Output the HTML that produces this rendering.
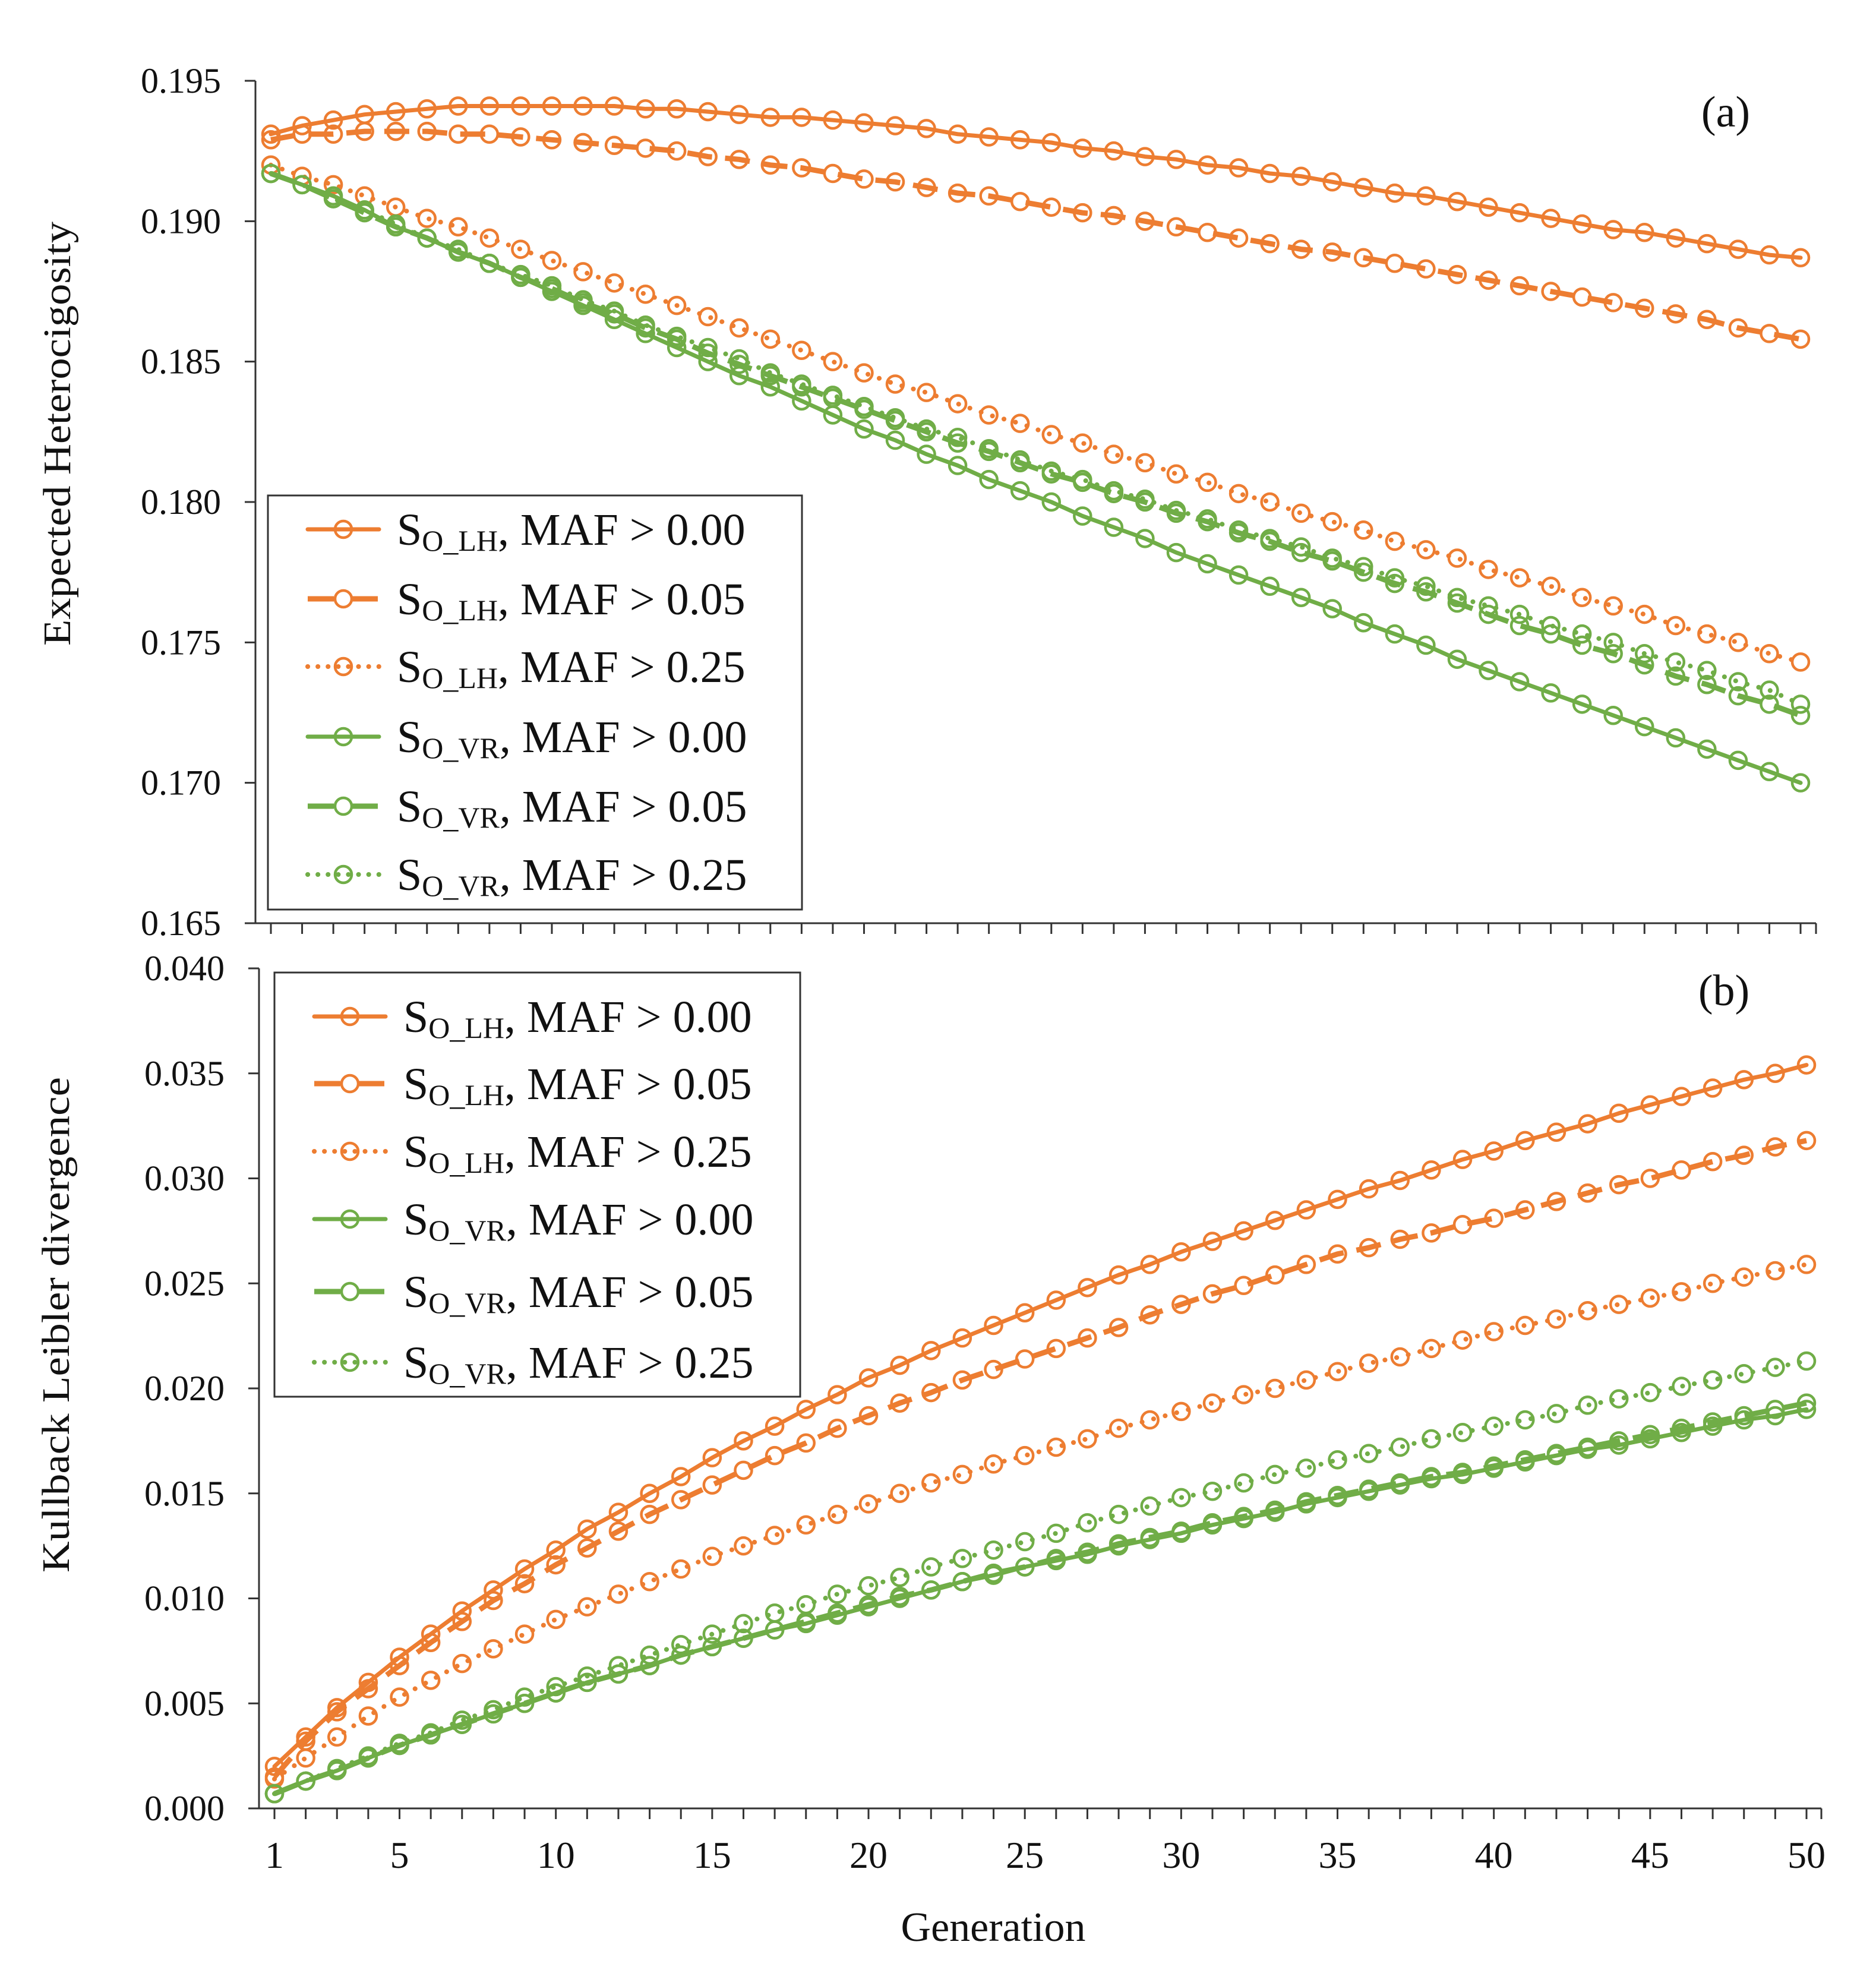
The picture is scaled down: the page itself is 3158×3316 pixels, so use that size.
<!DOCTYPE html>
<html><head><meta charset="utf-8"><style>
html,body{margin:0;padding:0;background:#fff;}
svg{display:block;font-family:"Liberation Serif",serif;}
</style></head><body>
<svg id="chart" width="3158" height="3316" viewBox="0 0 3158 3316" xmlns="http://www.w3.org/2000/svg"></svg>
<script>
const generations = Array.from({length:50},(_,i)=>i+1);
const xTickLabels = [1,5,10,15,20,25,30,35,40,45,50];
const hTicks = [0.165,0.170,0.175,0.180,0.185,0.190,0.195];
const kTicks = [0.000,0.005,0.010,0.015,0.020,0.025,0.030,0.035,0.040];
const legendLabels = [["S","O_LH",", MAF > 0.00"],["S","O_LH",", MAF > 0.05"],["S","O_LH",", MAF > 0.25"],["S","O_VR",", MAF > 0.00"],["S","O_VR",", MAF > 0.05"],["S","O_VR",", MAF > 0.25"]];

const hLH00 = [.1931,.1934,.1936,.1938,.1939,.1940,.1941,.1941,.1941,.1941,.1941,.1941,.1940,.1940,.1939,.1938,.1937,.1937,.1936,.1935,.1934,.1933,.1931,.1930,.1929,.1928,.1926,.1925,.1923,.1922,.1920,.1919,.1917,.1916,.1914,.1912,.1910,.1909,.1907,.1905,.1903,.1901,.1899,.1897,.1896,.1894,.1892,.1890,.1888,.1887];
const hLH05 = [.1929,.1931,.1931,.1932,.1932,.1932,.1931,.1931,.1930,.1929,.1928,.1927,.1926,.1925,.1923,.1922,.1920,.1919,.1917,.1915,.1914,.1912,.1910,.1909,.1907,.1905,.1903,.1902,.1900,.1898,.1896,.1894,.1892,.1890,.1889,.1887,.1885,.1883,.1881,.1879,.1877,.1875,.1873,.1871,.1869,.1867,.1865,.1862,.1860,.1858];
const hLH25 = [.1920,.1916,.1913,.1909,.1905,.1901,.1898,.1894,.1890,.1886,.1882,.1878,.1874,.1870,.1866,.1862,.1858,.1854,.1850,.1846,.1842,.1839,.1835,.1831,.1828,.1824,.1821,.1817,.1814,.1810,.1807,.1803,.1800,.1796,.1793,.1790,.1786,.1783,.1780,.1776,.1773,.1770,.1766,.1763,.1760,.1756,.1753,.1750,.1746,.1743];
const hVR00 = [.1917,.1913,.1909,.1904,.1898,.1894,.1889,.1885,.1880,.1875,.1870,.1865,.1860,.1855,.1850,.1845,.1841,.1836,.1831,.1826,.1822,.1817,.1813,.1808,.1804,.1800,.1795,.1791,.1787,.1782,.1778,.1774,.1770,.1766,.1762,.1757,.1753,.1749,.1744,.1740,.1736,.1732,.1728,.1724,.1720,.1716,.1712,.1708,.1704,.1700];
const hVR05 = [.1917,.1913,.1908,.1903,.1898,.1894,.1889,.1885,.1880,.1876,.1871,.1867,.1862,.1858,.1853,.1849,.1845,.1841,.1837,.1833,.1829,.1825,.1821,.1818,.1814,.1810,.1807,.1803,.1800,.1796,.1793,.1789,.1786,.1782,.1779,.1775,.1771,.1768,.1764,.1760,.1756,.1753,.1749,.1746,.1742,.1738,.1735,.1731,.1728,.1724];
const hVR25 = [.1917,.1913,.1908,.1904,.1899,.1894,.1890,.1885,.1881,.1877,.1872,.1868,.1863,.1859,.1855,.1851,.1846,.1842,.1838,.1834,.1830,.1826,.1823,.1819,.1815,.1811,.1808,.1804,.1801,.1797,.1794,.1790,.1787,.1784,.1780,.1777,.1773,.1770,.1766,.1763,.1760,.1756,.1753,.1750,.1746,.1743,.1740,.1736,.1733,.1728];

const kLH00 = [.0020,.0034,.0048,.0060,.0072,.0083,.0094,.0104,.0114,.0123,.0133,.0141,.0150,.0158,.0167,.0175,.0182,.0190,.0197,.0205,.0211,.0218,.0224,.0230,.0236,.0242,.0248,.0254,.0259,.0265,.0270,.0275,.0280,.0285,.0290,.0295,.0299,.0304,.0309,.0313,.0318,.0322,.0326,.0331,.0335,.0339,.0343,.0347,.0350,.0354];
const kLH05 = [.0015,.0032,.0046,.0057,.0068,.0079,.0089,.0099,.0107,.0116,.0124,.0132,.0140,.0147,.0154,.0161,.0168,.0174,.0181,.0187,.0193,.0198,.0204,.0209,.0214,.0219,.0224,.0229,.0235,.0240,.0245,.0249,.0254,.0259,.0264,.0267,.0271,.0274,.0278,.0281,.0285,.0289,.0293,.0297,.0300,.0304,.0308,.0311,.0315,.0318];
const kLH25 = [.0014,.0024,.0034,.0044,.0053,.0061,.0069,.0076,.0083,.0090,.0096,.0102,.0108,.0114,.0120,.0125,.0130,.0135,.0140,.0145,.0150,.0155,.0159,.0164,.0168,.0172,.0176,.0181,.0185,.0189,.0193,.0197,.0200,.0204,.0208,.0212,.0215,.0219,.0223,.0227,.0230,.0233,.0237,.0240,.0243,.0246,.0250,.0253,.0256,.0259];
const kVR00 = [.0007,.0013,.0018,.0024,.0030,.0035,.0040,.0045,.0050,.0055,.0060,.0064,.0068,.0073,.0077,.0081,.0085,.0088,.0092,.0096,.0100,.0104,.0108,.0111,.0115,.0118,.0121,.0125,.0128,.0131,.0135,.0138,.0141,.0145,.0148,.0151,.0154,.0157,.0159,.0162,.0165,.0168,.0171,.0173,.0176,.0179,.0182,.0185,.0187,.0190];
const kVR05 = [.0007,.0013,.0018,.0024,.0030,.0035,.0040,.0045,.0050,.0055,.0060,.0064,.0068,.0073,.0077,.0081,.0085,.0089,.0093,.0097,.0101,.0104,.0108,.0112,.0115,.0119,.0122,.0126,.0129,.0132,.0136,.0139,.0142,.0146,.0149,.0152,.0155,.0158,.0160,.0163,.0166,.0169,.0172,.0175,.0178,.0181,.0184,.0187,.0190,.0193];
const kVR25 = [.0007,.0013,.0019,.0025,.0031,.0036,.0042,.0047,.0053,.0058,.0063,.0068,.0073,.0078,.0083,.0088,.0093,.0097,.0102,.0106,.0110,.0115,.0119,.0123,.0127,.0131,.0136,.0140,.0144,.0148,.0151,.0155,.0159,.0162,.0166,.0169,.0172,.0176,.0179,.0182,.0185,.0188,.0192,.0195,.0198,.0201,.0204,.0207,.0210,.0213];

const NS="http://www.w3.org/2000/svg";
const svg=document.getElementById('chart');
const OR="#ED7D31", GR="#70AD47";
const styles=[
 {c:OR,w:7,d:null},{c:OR,w:9,d:"42 22"},{c:OR,w:8,d:"0.1 20"},
 {c:GR,w:7,d:null},{c:GR,w:9,d:"42 22"},{c:GR,w:8,d:"0.1 20"}];
function mk(tag,attrs,parent){const e=document.createElementNS(NS,tag);for(const k in attrs)e.setAttribute(k,attrs[k]);(parent||svg).appendChild(e);return e;}

function panel(cfg){
  const g=mk('g',{});
  
  
  const xs=v=>cfg.x1+(v-1)*(cfg.x50-cfg.x1)/49;
  const ys=v=>cfg.yBot-(v-cfg.vmin)/(cfg.vmax-cfg.vmin)*(cfg.yBot-cfg.yTop);
  const ya=mk('line',{x1:cfg.ax,y1:cfg.yTop,x2:cfg.ax,y2:cfg.yBot,stroke:'#333','stroke-width':3},g);
  
  const xa=mk('line',{x1:cfg.ax,y1:cfg.yBot,x2:cfg.xEnd,y2:cfg.yBot,stroke:'#333','stroke-width':3},g);
  
  cfg.ticks.forEach(t=>{
    const y=ys(t);
    mk('line',{x1:cfg.ax-18,y1:y,x2:cfg.ax,y2:y,stroke:'#333','stroke-width':3},g);
    const tx=mk('text',{x:cfg.ax-58,y:y+20,'text-anchor':'end','font-size':60,fill:'#111'},g);
    tx.textContent=t.toFixed(3);
    
  });
  generations.forEach(gn=>{const x=xs(gn);mk('line',{x1:x,y1:cfg.yBot,x2:x,y2:cfg.yBot+18,stroke:'#333','stroke-width':3},g);});
  mk('line',{x1:cfg.xEnd,y1:cfg.yBot,x2:cfg.xEnd,y2:cfg.yBot+18,stroke:'#333','stroke-width':3},g);
  if(cfg.xlabels){xTickLabels.forEach(v=>{const t=mk('text',{x:xs(v),y:cfg.yBot+100,'text-anchor':'middle','font-size':64,fill:'#111'},g);t.textContent=v;
    });}
  const yt=mk('text',{x:0,y:0,transform:`translate(${cfg.ytx},${cfg.yty}) rotate(-90)`,'text-anchor':'middle','font-size':66,fill:'#111',textLength:cfg.ytl,lengthAdjust:'spacingAndGlyphs'},g);
  yt.textContent=cfg.ytitle;
  
  const pl=mk('text',{x:cfg.plx,y:cfg.ply,'text-anchor':'middle','font-size':74,fill:'#111'},g);
  pl.textContent=cfg.plabel;
  
  cfg.series.forEach((arr,si)=>{
    const s=styles[si];
    const sg=mk('g',{},g);
    
    const pts=arr.map((v,i)=>xs(generations[i]).toFixed(1)+','+ys(v).toFixed(1)).join(' ');
    const a={points:pts,fill:'none',stroke:s.c,'stroke-width':s.w,'stroke-linecap':'round','stroke-linejoin':'round'};
    if(s.d)a['stroke-dasharray']=s.d;
    if(s.d==="42 22")a['stroke-linecap']='butt';
    const pl=mk('polyline',a,sg);
    
    arr.forEach((v,i)=>{const c=mk('circle',{cx:xs(generations[i]),cy:ys(v),r:14,fill:'none',stroke:s.c,'stroke-width':4.5},sg);
      });
  });
  const lg=mk('g',{},g);
  
  mk('rect',{x:cfg.lx,y:cfg.ly,width:cfg.lw,height:cfg.lh,fill:'#fff',stroke:'#333','stroke-width':3},lg);
  cfg.rows.forEach((ry,i)=>{
    const s=styles[i];
    const a={x1:cfg.lx+67,y1:ry,x2:cfg.lx+187,y2:ry,stroke:s.c,'stroke-width':s.w,'stroke-linecap':'round'};
    if(s.d)a['stroke-dasharray']=s.d==="42 22"?"44 30":"0.1 17";
    if(s.d==="42 22")a['stroke-linecap']='butt';
    mk('line',a,lg);
    mk('circle',{cx:cfg.lx+127,cy:ry,r:14,fill:s.d==="42 22"?'#fff':'none',stroke:s.c,'stroke-width':4.5},lg);
    const t=mk('text',{x:cfg.lx+217,y:ry+26,'font-size':76,fill:'#111'},lg);
    
    const L=legendLabels[i];
    const t1=mk('tspan',{},t);t1.textContent=L[0];
    const t2=mk('tspan',{'font-size':50,dy:10},t);t2.textContent=L[1];
    const t3=mk('tspan',{dy:-10},t);t3.textContent=L[2];
  });
}

panel({name:'heterozygosity-panel',ax:430,x1:456,x50:3031,xEnd:3057,yTop:136,yBot:1554,vmin:0.165,vmax:0.195,
  ticks:hTicks,xlabels:false,ytx:118,yty:730,ytl:714,ytitle:'Expected  Heterocigosity',plx:2905,ply:213,plabel:'(a)',
  series:[hLH00,hLH05,hLH25,hVR00,hVR05,hVR25],lx:451,ly:834,lw:899,lh:697,rows:[891,1008,1122,1240,1357,1472]});
panel({name:'kl-divergence-panel',ax:436,x1:462,x50:3041,xEnd:3066,yTop:1630,yBot:3044,vmin:0,vmax:0.040,
  ticks:kTicks,xlabels:true,ytx:116,yty:2230,ytl:834,ytitle:'Kullback  Leibler  divergence',plx:2902,ply:1692,plabel:'(b)',
  series:[kLH00,kLH05,kLH25,kVR00,kVR05,kVR25],lx:462,ly:1637,lw:885,lh:714,rows:[1711,1824,1938,2052,2174,2293]});

const xt=mk('text',{x:1672,y:3267,'text-anchor':'middle','font-size':70,fill:'#111'});
xt.textContent='Generation';


</script>
</body></html>
